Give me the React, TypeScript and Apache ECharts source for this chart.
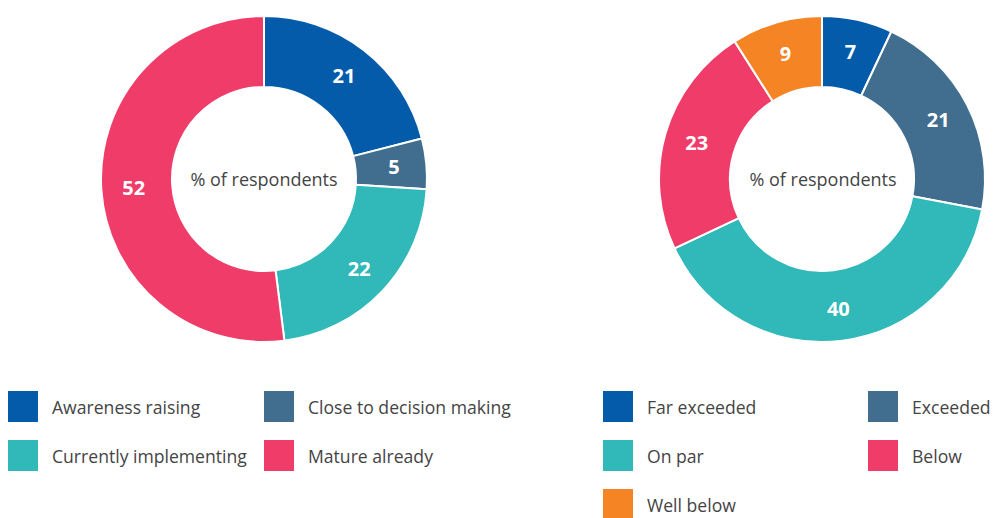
import React, { useEffect, useRef } from "react";
import * as echarts from "echarts";

const stageNames = ["Awareness raising", "Close to decision making", "Currently implementing", "Mature already"];
const stageValues = [21, 5, 22, 52];
const stageColors = ["#035BAA", "#416E8E", "#31B8B8", "#F03C69"];

const perfNames = ["Far exceeded", "Exceeded", "On par", "Below", "Well below"];
const perfValues = [7, 21, 40, 23, 9];
const perfColors = ["#035BAA", "#416E8E", "#31B8B8", "#F03C69", "#F58424"];

const centerLabel = "% of respondents";
const FONT = "'Open Sans', sans-serif";

function pieSeries(names: string[], values: number[], colors: string[], cx: number) {
  return {
    type: "pie",
    center: [cx, 179],
    radius: [92, 163],
    startAngle: 90,
    clockwise: true,
    avoidLabelOverlap: false,
    silent: true,
    emphasis: { disabled: true },
    itemStyle: { borderColor: "#ffffff", borderWidth: 2 },
    label: {
      show: true,
      position: "inside",
      formatter: "{c}",
      color: "#ffffff",
      fontWeight: "bold",
      fontSize: 20,
      fontFamily: FONT,
    },
    labelLine: { show: false },
    data: names.map((n, i) => ({ name: n, value: values[i], itemStyle: { color: colors[i] } })),
  };
}

function legendAt(left: number, top: number, data: string[]) {
  return {
    left,
    top,
    height: 200,
    orient: "vertical",
    padding: 0,
    itemGap: 18,
    itemWidth: 30,
    itemHeight: 31,
    icon: "rect",
    selectedMode: false,
    itemStyle: { borderWidth: 0 },
    textStyle: {
      fontFamily: FONT,
      fontSize: 17.6,
      color: "#444444",
      padding: [10, 0, 0, 9],
    },
    data,
  };
}

export default function App() {
  const ref = useRef<HTMLDivElement>(null);
  useEffect(() => {
    document.body.style.margin = "0";
    const chart = echarts.init(ref.current!, undefined, { renderer: "svg" });
    chart.setOption({
      animation: false,
      backgroundColor: "#ffffff",
      legend: [
        legendAt(8, 391, [stageNames[0], stageNames[2]]),
        legendAt(264, 391, [stageNames[1], stageNames[3]]),
        legendAt(603, 391, [perfNames[0], perfNames[2]]),
        legendAt(603, 489, [perfNames[4]]),
        legendAt(868, 391, [perfNames[1], perfNames[3]]),
      ],
      graphic: [
        {
          type: "text",
          x: 264,
          y: 179,
          style: { text: centerLabel, fontFamily: FONT, fontSize: 18, fill: "#444444", align: "center", verticalAlign: "middle" },
        },
        {
          type: "text",
          x: 823,
          y: 179,
          style: { text: centerLabel, fontFamily: FONT, fontSize: 18, fill: "#444444", align: "center", verticalAlign: "middle" },
        },
      ],
      series: [
        pieSeries(stageNames, stageValues, stageColors, 264),
        pieSeries(perfNames, perfValues, perfColors, 822),
      ],
    });
    return () => chart.dispose();
  }, []);
  return <div ref={ref} style={{ width: 1000, height: 518 }} />;
}
